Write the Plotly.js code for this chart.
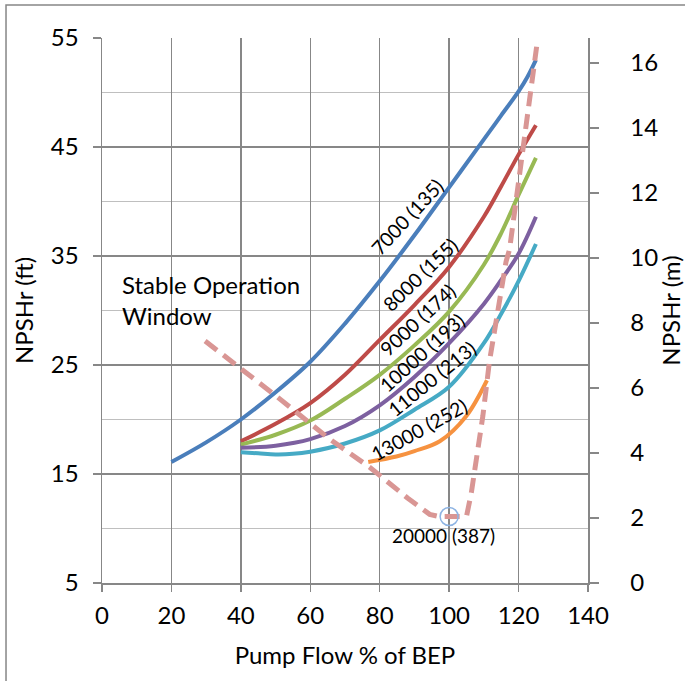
<!DOCTYPE html>
<html>
<head>
<meta charset="utf-8">
<script src="https://cdn.plot.ly/plotly-3.0.1.min.js"></script>
<style>
  html, body { margin: 0; padding: 0; background: #fff; }
  #chart { width: 685px; height: 681px; }
</style>
</head>
<body>
<div id="chart"></div>
<script>
// NPSHr vs pump flow (% of BEP) for several pump speeds, rpm (suction specific speed)
const flow7000  = [20, 30, 40, 50, 60, 70, 80, 90, 100, 110, 115, 120, 122.5, 125];
const npsh7000  = [16.1, 17.9, 20.0, 22.5, 25.3, 28.8, 32.7, 36.9, 41.3, 45.7, 47.9, 50.1, 51.4, 53.0];

const flow8000  = [40, 50, 60, 70, 80, 90, 100, 110, 115, 120, 125];
const npsh8000  = [18.0, 19.6, 21.5, 24.1, 27.3, 30.5, 34.0, 38.6, 41.4, 44.3, 47.0];

const flow9000  = [40, 50, 60, 70, 80, 90, 100, 110, 115, 120, 125];
const npsh9000  = [17.7, 18.6, 19.9, 21.9, 24.1, 26.8, 29.9, 34.2, 37.1, 40.6, 44.0];

const flow10000 = [40, 50, 60, 70, 80, 90, 100, 110, 115, 120, 125];
const npsh10000 = [17.4, 17.6, 18.2, 19.4, 21.3, 23.9, 27.0, 30.6, 32.8, 35.2, 38.6];

const flow11000 = [40, 45, 50, 55, 60, 70, 80, 90, 100, 110, 115, 120, 125];
const npsh11000 = [17.0, 16.9, 16.8, 16.85, 17.05, 17.8, 19.0, 20.9, 23.0, 27.0, 29.7, 32.7, 36.1];

const flow13000 = [76.7, 84.8, 90, 97.3, 104.9, 110.9];
const npsh13000 = [16.1, 16.6, 17.1, 18.0, 20.3, 23.6];

// Boundary of the stable operation window
const flowWindow = [29.7, 50, 65.6, 77.2, 88, 94.4, 97, 100, 105, 106.4, 107.8, 109.7, 111.6, 113.6, 116.4, 117.4, 118.8, 121.2, 123.1, 125.2];
const npshWindow = [27.2, 22.2, 18.2, 15.6, 12.8, 11.3, 11.1, 11.1, 11.1, 13.3, 16.3, 20.3, 25.3, 29.4, 34.5, 35.6, 38.9, 45.1, 49.6, 54.2];

// 20000 rpm point
const flow20000 = [100];
const npsh20000 = [11.1];

const speedLabels = ['7000 (135)', '8000 (155)', '9000 (174)', '10000 (193)', '11000 (213)', '13000 (252)', '20000 (387)'];

const xTicks = [0, 20, 40, 60, 80, 100, 120, 140];
const ftTicks = [5, 15, 25, 35, 45, 55];
const mTicks = [0, 2, 4, 6, 8, 10, 12, 14, 16];

const FONT = 'Lato, "Open Sans", sans-serif';
const GRID = '#878787';

function curve(x, y, color, name) {
  return {
    x: x, y: y, name: name, type: 'scatter', mode: 'lines',
    line: { color: color, width: 4, shape: 'spline', smoothing: 1 },
    hoverinfo: 'skip'
  };
}

const traces = [
  curve(flow7000, npsh7000, '#4a7ebb', speedLabels[0]),
  curve(flow8000, npsh8000, '#be4b48', speedLabels[1]),
  curve(flow9000, npsh9000, '#98b954', speedLabels[2]),
  curve(flow10000, npsh10000, '#7d60a0', speedLabels[3]),
  curve(flow11000, npsh11000, '#46aac5', speedLabels[4]),
  curve(flow13000, npsh13000, '#f69240', speedLabels[5]),
  {
    x: flowWindow, y: npshWindow, type: 'scatter', mode: 'lines', name: 'Stable Operation Window',
    line: { color: '#d99694', width: 5, dash: '15px,8px' }, hoverinfo: 'skip'
  },
  {
    x: flow20000, y: npsh20000, type: 'scatter', mode: 'markers', name: speedLabels[6],
    marker: { symbol: 'circle-open', size: 18, color: '#8eb4e3', line: { width: 1.5, color: '#8eb4e3' } },
    hoverinfo: 'skip'
  },
  // meter scale on the right
  { x: [0], y: [0], yaxis: 'y2', type: 'scatter', mode: 'markers', marker: { opacity: 0 }, hoverinfo: 'skip', showlegend: false }
];

// curve labels placed along each line: [x, y, angle]
const labelPos = [
  [88.0, 38.6, -47],
  [91.7, 33.3, -44],
  [91.0, 29.2, -43],
  [92.2, 26.15, -42],
  [95.1, 23.75, -39],
  [91.4, 19.1, -29]
];

const annotations = labelPos.map((p, i) => ({
  x: p[0], y: p[1], xref: 'x', yref: 'y', text: speedLabels[i],
  textangle: p[2], showarrow: false, font: { family: FONT, size: 19.5, color: '#000' }
}));
annotations.push({
  x: 98.4, y: 9.4, xref: 'x', yref: 'y', text: speedLabels[6], showarrow: false,
  font: { family: FONT, size: 19, color: '#000' }
});
annotations.push({
  x: 5.1, y: 33.9, xref: 'x', yref: 'y', xanchor: 'left', yanchor: 'top', align: 'left',
  text: 'Stable Operation<br>Window', showarrow: false,
  font: { family: FONT, size: 24, color: '#000' }
});

const layout = {
  width: 685, height: 681,
  margin: { l: 102, r: 97, t: 38, b: 98, pad: 0 },
  paper_bgcolor: '#fff', plot_bgcolor: '#fff',
  showlegend: false,
  font: { family: FONT, size: 24, color: '#000' },
  xaxis: {
    range: [0, 140], tickvals: xTicks, ticktext: xTicks.map(String),
    showgrid: true, gridcolor: GRID, gridwidth: 1.5,
    showline: true, linecolor: GRID, linewidth: 1.5, mirror: false,
    ticks: 'outside', ticklen: 7, tickwidth: 1.5, tickcolor: GRID,
    ticklabelstandoff: 4, zeroline: false,
    tickfont: { family: FONT, size: 24, color: '#000' },
    title: { text: 'Pump Flow % of BEP', standoff: 19, font: { family: FONT, size: 24, color: '#000' } }
  },
  yaxis: {
    range: [5, 55], tickvals: ftTicks, ticktext: ftTicks.map(String),
    showgrid: true, gridcolor: GRID, gridwidth: 1.5,
    minor: { dtick: 5, tick0: 0, showgrid: true, gridcolor: '#bfbfbf', gridwidth: 1.5, ticks: '' },
    showline: true, linecolor: GRID, linewidth: 1.5,
    ticks: 'outside', ticklen: 8, tickwidth: 1.5, tickcolor: GRID,
    ticklabelstandoff: 9, zeroline: false,
    tickfont: { family: FONT, size: 24, color: '#000' },
    title: { text: 'NPSHr (ft)', standoff: 10, font: { family: FONT, size: 24, color: '#000' } }
  },
  yaxis2: {
    overlaying: 'y', side: 'right', anchor: 'x',
    range: [0, 16.764], tickvals: mTicks, ticktext: mTicks.map(String),
    showgrid: false, zeroline: false,
    showline: true, linecolor: GRID, linewidth: 1.5,
    ticks: 'outside', ticklen: 9, tickwidth: 1.5, tickcolor: GRID,
    ticklabelstandoff: 27,
    tickfont: { family: FONT, size: 24, color: '#000' },
    title: { text: 'NPSHr (m)', standoff: 1, font: { family: FONT, size: 24, color: '#000' } }
  },
  annotations: annotations,
  shapes: [{
    type: 'rect', xref: 'paper', yref: 'paper', layer: 'below',
    x0: -0.1975, x1: 1.25, y0: -0.22, y1: 1.0606,
    line: { color: '#868686', width: 1.5 }, fillcolor: 'rgba(0,0,0,0)'
  }]
};

Plotly.newPlot('chart', traces, layout, { staticPlot: true, displayModeBar: false });
</script>
</body>
</html>
